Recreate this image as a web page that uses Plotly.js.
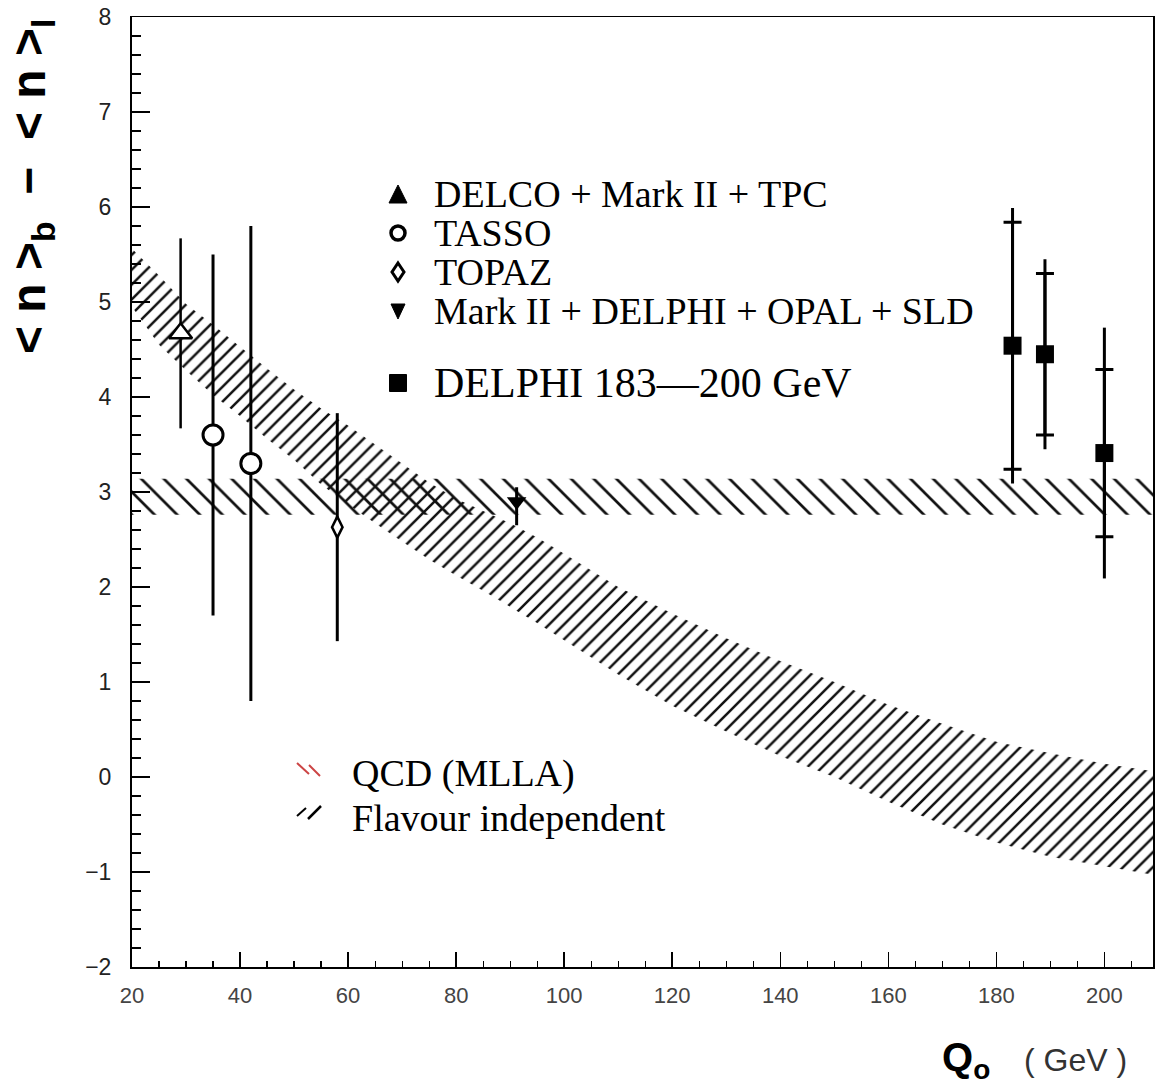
<!DOCTYPE html>
<html><head><meta charset="utf-8">
<script src="https://cdn.plot.ly/plotly-3.0.1.min.js"></script>
<style>html,body{margin:0;padding:0;background:#fff}</style>
</head><body>
<div id="chart" style="width:1159px;height:1088px"></div>
<script>
// ---------------- data ----------------
const delcoQ = [29];
const delcoY = [4.67];
const delcoErr = [1.0];

const tassoQ = [35, 42];
const tassoY = [3.6, 3.3];
const tassoErr = [1.9, 2.5];

const topazQ = [58];
const topazY = [2.63];
const topazErr = [1.2];

const lepQ = [91.2];
const lepY = [2.9];
const lepErrUp = [0.15];
const lepErrDown = [0.25];

const delphiQ = [183, 189, 200];
const delphiY = [4.54, 4.45, 3.41];
const delphiStatErr = [1.3, 0.85, 0.88];
const delphiTotErr = [1.45, 1.0, 1.32];

// QCD (MLLA) band
const qcdQ = [20, 209];
const qcdUpper = [3.14, 3.14];
const qcdLower = [2.76, 2.76];

// Flavour independent band
const flavQ = [20, 25, 30, 35, 40, 45, 50, 55, 60, 65, 70, 75, 80, 85, 90, 95, 100, 110, 120, 130, 140, 150, 160, 170, 180, 190, 200, 209];
const flavUpper = [5.56, 5.28, 4.98, 4.76, 4.53, 4.30, 4.08, 3.88, 3.70, 3.50, 3.30, 3.10, 2.93, 2.80, 2.67, 2.52, 2.35, 2.00, 1.72, 1.46, 1.22, 1.00, 0.76, 0.56, 0.37, 0.25, 0.14, 0.06];
const flavLower = [4.95, 4.55, 4.28, 4.02, 3.80, 3.56, 3.34, 3.08, 2.87, 2.67, 2.48, 2.29, 2.12, 1.96, 1.79, 1.62, 1.44, 1.08, 0.75, 0.48, 0.22, 0.00, -0.26, -0.50, -0.69, -0.84, -0.94, -1.03];

const xTickVals = [20, 40, 60, 80, 100, 120, 140, 160, 180, 200];
const yTickVals = [-2, -1, 0, 1, 2, 3, 4, 5, 6, 7, 8];

const legendLabels = [
  'DELCO + Mark II + TPC',
  'TASSO',
  'TOPAZ',
  'Mark II + DELPHI + OPAL + SLD',
  'DELPHI 183\u2014200 GeV'
];
const bandLabels = ['QCD (MLLA)', 'Flavour independent'];

// ---------------- layout helpers (pixel -> paper) ----------------
const W = 1159, H = 1088;
const M = {l: 132, r: 6, t: 17, b: 121};
const PW = W - M.l - M.r, PH = H - M.t - M.b;
const xp = px => (px - M.l) / PW;
const yp = py => (H - M.b - py) / PH;

function band(q, up, lo) {
  return {
    x: q.concat(q.slice().reverse()),
    y: up.concat(lo.slice().reverse())
  };
}
const qb = band(qcdQ, qcdUpper, qcdLower);
const fb = band(flavQ, flavUpper, flavLower);

const traces = [
  {
    type: 'scatter', mode: 'none', x: qb.x, y: qb.y, fill: 'toself',
    fillcolor: 'rgba(0,0,0,0)',
    fillpattern: {shape: '\\', fgcolor: '#111', bgcolor: 'rgba(0,0,0,0)', size: 16, solidity: 0.17},
    hoverinfo: 'skip', showlegend: false, name: bandLabels[0]
  },
  {
    type: 'scatter', mode: 'none', x: fb.x, y: fb.y, fill: 'toself',
    fillcolor: 'rgba(0,0,0,0)',
    fillpattern: {shape: '/', fgcolor: '#111', bgcolor: 'rgba(0,0,0,0)', size: 10.5, solidity: 0.24},
    hoverinfo: 'skip', showlegend: false, name: bandLabels[1]
  },
  {
    type: 'scatter', mode: 'markers', x: delcoQ, y: delcoY, name: legendLabels[0],
    error_y: {type: 'data', array: delcoErr, color: '#000', thickness: 2.5, width: 0},
    marker: {symbol: 'triangle-up', size: 20, color: '#fff', line: {color: '#000', width: 2.5}},
    showlegend: false
  },
  {
    type: 'scatter', mode: 'markers', x: tassoQ, y: tassoY, name: legendLabels[1],
    error_y: {type: 'data', array: tassoErr, color: '#000', thickness: 3, width: 0},
    marker: {symbol: 'circle', size: 20, color: '#fff', line: {color: '#000', width: 3}},
    showlegend: false
  },
  {
    type: 'scatter', mode: 'markers', x: topazQ, y: topazY, name: legendLabels[2],
    error_y: {type: 'data', array: topazErr, color: '#000', thickness: 3, width: 0},
    marker: {symbol: 'diamond-tall', size: 15, color: '#fff', line: {color: '#000', width: 2.5}},
    showlegend: false
  },
  {
    type: 'scatter', mode: 'markers', x: lepQ, y: lepY, name: legendLabels[3],
    error_y: {type: 'data', symmetric: false, array: lepErrUp, arrayminus: lepErrDown, color: '#000', thickness: 3, width: 0},
    marker: {symbol: 'triangle-down', size: 17, color: '#000'},
    showlegend: false
  },
  {
    type: 'scatter', mode: 'markers', x: delphiQ, y: delphiY, name: 'total',
    error_y: {type: 'data', array: delphiTotErr, color: '#000', thickness: 3, width: 0},
    marker: {size: 1, color: 'rgba(0,0,0,0)'},
    showlegend: false, hoverinfo: 'skip'
  },
  {
    type: 'scatter', mode: 'markers', x: delphiQ, y: delphiY, name: legendLabels[4],
    error_y: {type: 'data', array: delphiStatErr, color: '#000', thickness: 3, width: 9},
    marker: {symbol: 'square', size: 18, color: '#000'},
    showlegend: false
  }
];

const serif = 'Liberation Serif, Times New Roman, serif';
const legendRowsY = [194, 233, 272, 311, 383];
const legendTextSize = [38, 38, 38, 38, 42];

const annotations = [];
legendLabels.forEach((t, i) => {
  annotations.push({
    xref: 'paper', yref: 'paper', x: xp(432), y: yp(legendRowsY[i]),
    xanchor: 'left', yanchor: 'middle', showarrow: false, text: t,
    font: {family: serif, size: legendTextSize[i], color: '#000'}
  });
});
const bandRowsY = [773, 818];
bandLabels.forEach((t, i) => {
  annotations.push({
    xref: 'paper', yref: 'paper', x: xp(350), y: yp(bandRowsY[i]),
    xanchor: 'left', yanchor: 'middle', showarrow: false, text: t,
    font: {family: serif, size: 38, color: '#000'}
  });
});
// axis titles
annotations.push({
  xref: 'paper', yref: 'paper', x: xp(32), y: yp(187), xanchor: 'center', yanchor: 'middle',
  showarrow: false, textangle: -90,
  text: '<b>&lt; n &gt;<sub>b</sub>  \u2212  &lt; n &gt;<sub>l</sub></b>',
  font: {family: 'Liberation Sans, Arial, sans-serif', size: 48, color: '#000'}
});
annotations.push({
  xref: 'paper', yref: 'paper', x: xp(940), y: yp(1060), xanchor: 'left', yanchor: 'middle',
  showarrow: false, text: '<b>Q</b><sub><b>o</b></sub>',
  font: {family: 'Liberation Sans, Arial, sans-serif', size: 40, color: '#000'}
});
annotations.push({
  xref: 'paper', yref: 'paper', x: xp(1022), y: yp(1060), xanchor: 'left', yanchor: 'middle',
  showarrow: false, text: '( GeV )',
  font: {family: 'Liberation Sans, Arial, sans-serif', size: 32, color: '#333'}
});

// ---------------- legend keys (drawn as paper-space shapes) ----------------
function polyPath(pts) {
  return 'M' + pts.map(p => xp(p[0]) + ',' + yp(p[1])).join('L') + 'Z';
}
const kx = 398;
const shapes = [
  // DELCO: filled triangle
  {type: 'path', xref: 'paper', yref: 'paper',
   path: polyPath([[kx - 9, legendRowsY[0] + 9], [kx + 9, legendRowsY[0] + 9], [kx, legendRowsY[0] - 9]]),
   fillcolor: '#000', line: {color: '#000', width: 1}},
  // TASSO: thick open circle
  {type: 'circle', xref: 'paper', yref: 'paper',
   x0: xp(kx - 7), x1: xp(kx + 7), y0: yp(legendRowsY[1] - 7), y1: yp(legendRowsY[1] + 7),
   fillcolor: '#fff', line: {color: '#000', width: 3.5}},
  // TOPAZ: open diamond
  {type: 'path', xref: 'paper', yref: 'paper',
   path: polyPath([[kx, legendRowsY[2] - 9], [kx + 6, legendRowsY[2]], [kx, legendRowsY[2] + 9], [kx - 6, legendRowsY[2]]]),
   fillcolor: '#fff', line: {color: '#000', width: 3}},
  // Mark II + ...: filled inverted triangle
  {type: 'path', xref: 'paper', yref: 'paper',
   path: polyPath([[kx - 7, legendRowsY[3] - 7], [kx + 7, legendRowsY[3] - 7], [kx, legendRowsY[3] + 8]]),
   fillcolor: '#000', line: {color: '#000', width: 1}},
  // DELPHI: filled square
  {type: 'rect', xref: 'paper', yref: 'paper',
   x0: xp(kx - 8.5), x1: xp(kx + 8.5), y0: yp(legendRowsY[4] - 8.5), y1: yp(legendRowsY[4] + 8.5),
   fillcolor: '#000', line: {color: '#000', width: 1}},
  // band legend swatches (short hatch strokes)
  {type: 'line', xref: 'paper', yref: 'paper', x0: xp(297), y0: yp(763), x1: xp(309), y1: yp(774), line: {color: '#c44', width: 2}},
  {type: 'line', xref: 'paper', yref: 'paper', x0: xp(309), y0: yp(765), x1: xp(320), y1: yp(776), line: {color: '#c44', width: 2}},
  {type: 'line', xref: 'paper', yref: 'paper', x0: xp(297), y0: yp(816), x1: xp(306), y1: yp(808), line: {color: '#000', width: 2}},
  {type: 'line', xref: 'paper', yref: 'paper', x0: xp(308), y0: yp(819), x1: xp(321), y1: yp(806), line: {color: '#000', width: 2.5}}
];

const layout = {
  width: W, height: H,
  margin: M,
  paper_bgcolor: '#fff', plot_bgcolor: '#fff',
  showlegend: false,
  xaxis: {
    range: [20, 209], tickvals: xTickVals, ticks: 'inside', ticklen: 15, tickwidth: 1.5, tickcolor: '#000',
    minor: {dtick: 5, tick0: 20, ticks: 'inside', ticklen: 6, tickwidth: 1.2, tickcolor: '#000'},
    showline: true, linecolor: '#000', linewidth: 1.5, mirror: true,
    showgrid: false, zeroline: false,
    tickfont: {family: 'Liberation Sans, Arial, sans-serif', size: 22, color: '#444'},
    ticklabelstandoff: 8
  },
  yaxis: {
    range: [-2, 8], tickvals: yTickVals, ticks: 'inside', ticklen: 18, tickwidth: 1.5, tickcolor: '#000',
    minor: {dtick: 0.2, tick0: 0, ticks: 'inside', ticklen: 9, tickwidth: 1.2, tickcolor: '#000'},
    showline: true, linecolor: '#000', linewidth: 2, mirror: true,
    showgrid: false, zeroline: false,
    tickfont: {family: 'Liberation Sans, Arial, sans-serif', size: 23, color: '#222'},
    ticklabelstandoff: 14
  },
  annotations: annotations,
  shapes: shapes
};

Plotly.newPlot('chart', traces, layout, {displayModeBar: false, staticPlot: true});
</script>
</body></html>
